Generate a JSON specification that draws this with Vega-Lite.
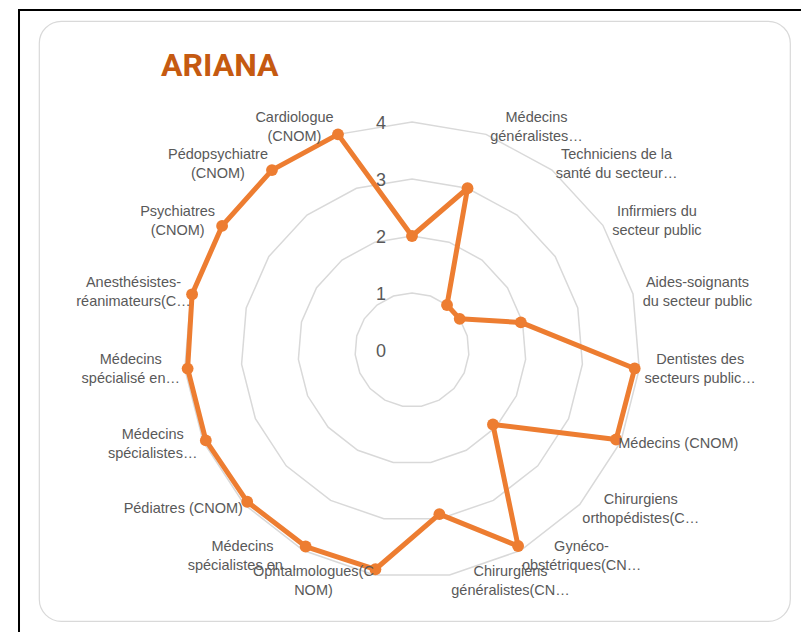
{
  "$schema": "https://vega.github.io/schema/vega-lite/v6.json",
  "width": 751,
  "height": 600,
  "autosize": {"type": "none"},
  "padding": {"left": 39, "top": 21, "right": 11, "bottom": 11},
  "background": "white",
  "config": {
    "view": {"stroke": "#d9d9d9", "strokeWidth": 1.2, "cornerRadius": 22, "fill": "white"}
  },
  "title": {
    "text": "ARIANA",
    "anchor": "start",
    "frame": "group",
    "orient": "top",
    "offset": -68,
    "dx": 122,
    "dy": 31,
    "baseline": "alphabetic",
    "font": "Roboto",
    "fontSize": 32,
    "fontWeight": "bold",
    "color": "#C55A11"
  },
  "datasets": {
    "cats": [
      {"idx": 0, "label": [""], "value": 2.0},
      {"idx": 1, "label": ["Médecins", "généralistes…"], "value": 3.0},
      {"idx": 2, "label": ["Techniciens de la", "santé du secteur…"], "value": 1.0},
      {"idx": 3, "label": ["Infirmiers du", "secteur public"], "value": 1.0},
      {"idx": 4, "label": ["Aides-soignants", "du secteur public"], "value": 1.97},
      {"idx": 5, "label": ["Dentistes des", "secteurs public…"], "value": 3.92},
      {"idx": 6, "label": ["Médecins (CNOM)"], "value": 3.91},
      {"idx": 7, "label": ["Chirurgiens", "orthopédistes(C…"], "value": 1.93},
      {"idx": 8, "label": ["Gynéco-", "obstétriques(CN…"], "value": 3.91},
      {"idx": 9, "label": ["Chirurgiens", "généralistes(CN…"], "value": 2.92},
      {"idx": 10, "label": ["Ophtalmologues(C", "NOM)"], "value": 3.9},
      {"idx": 11, "label": ["Médecins", "spécialistes en…"], "value": 3.92},
      {"idx": 12, "label": ["Pédiatres (CNOM)"], "value": 3.93},
      {"idx": 13, "label": ["Médecins", "spécialistes…"], "value": 3.95},
      {"idx": 14, "label": ["Médecins", "spécialisé en…"], "value": 3.95},
      {"idx": 15, "label": ["Anesthésistes-", "réanimateurs(C…"], "value": 3.98},
      {"idx": 16, "label": ["Psychiatres", "(CNOM)"], "value": 3.98},
      {"idx": 17, "label": ["Pédopsychiatre", "(CNOM)"], "value": 4.0},
      {"idx": 18, "label": ["Cardiologue", "(CNOM)"], "value": 4.0}
    ],
    "ticks": [{"v": 0}, {"v": 1}, {"v": 2}, {"v": 3}, {"v": 4}]
  },
  "layer": [
    {
      "data": {"values": [{}]},
      "mark": {"type": "rect", "fillOpacity": 0, "stroke": "black", "strokeWidth": 2},
      "encoding": {
        "x": {"datum": -6.8947, "type": "quantitative", "scale": {"domain": [-6.5439, 6.6316], "nice": false, "zero": false}, "axis": null},
        "x2": {"datum": 8.5},
        "y": {"datum": 5.9649, "type": "quantitative", "scale": {"domain": [-4.7544, 5.7719], "nice": false, "zero": false}, "axis": null},
        "y2": {"datum": -6.5}
      }
    },
    {
      "data": {"name": "cats"},
      "transform": [
        {"calculate": "[1, 2, 3, 4]", "as": "ring"},
        {"flatten": ["ring"]},
        {"calculate": "datum.ring * sin(datum.idx * 2 * PI / 19)", "as": "px"},
        {"calculate": "datum.ring * cos(datum.idx * 2 * PI / 19)", "as": "py"}
      ],
      "mark": {"type": "line", "interpolate": "linear-closed", "color": "#d9d9d9", "strokeWidth": 1.5},
      "encoding": {
        "x": {"field": "px", "type": "quantitative", "scale": {"domain": [-6.5439, 6.6316], "nice": false, "zero": false}, "axis": null},
        "y": {"field": "py", "type": "quantitative", "scale": {"domain": [-4.7544, 5.7719], "nice": false, "zero": false}, "axis": null},
        "detail": {"field": "ring", "type": "nominal"},
        "order": {"field": "idx", "type": "quantitative"}
      }
    },
    {
      "data": {"name": "cats"},
      "transform": [
        {"calculate": "datum.value * sin(datum.idx * 2 * PI / 19)", "as": "px"},
        {"calculate": "datum.value * cos(datum.idx * 2 * PI / 19)", "as": "py"}
      ],
      "mark": {"type": "line", "interpolate": "linear-closed", "color": "#ED7D31", "strokeWidth": 5, "strokeJoin": "round"},
      "encoding": {
        "x": {"field": "px", "type": "quantitative", "scale": {"domain": [-6.5439, 6.6316], "nice": false, "zero": false}, "axis": null},
        "y": {"field": "py", "type": "quantitative", "scale": {"domain": [-4.7544, 5.7719], "nice": false, "zero": false}, "axis": null},
        "order": {"field": "idx", "type": "quantitative"}
      }
    },
    {
      "data": {"name": "cats"},
      "transform": [
        {"calculate": "datum.value * sin(datum.idx * 2 * PI / 19)", "as": "px"},
        {"calculate": "datum.value * cos(datum.idx * 2 * PI / 19)", "as": "py"}
      ],
      "mark": {"type": "point", "filled": true, "color": "#ED7D31", "size": 140, "opacity": 1},
      "encoding": {
        "x": {"field": "px", "type": "quantitative", "scale": {"domain": [-6.5439, 6.6316], "nice": false, "zero": false}, "axis": null},
        "y": {"field": "py", "type": "quantitative", "scale": {"domain": [-4.7544, 5.7719], "nice": false, "zero": false}, "axis": null}
      }
    },
    {
      "data": {"name": "ticks"},
      "transform": [
        {"calculate": "0", "as": "px"},
        {"calculate": "datum.v", "as": "py"}
      ],
      "mark": {"type": "text", "align": "right", "baseline": "middle", "dx": -26, "dy": 2, "font": "Liberation Sans", "fontSize": 18, "color": "#595959"},
      "encoding": {
        "x": {"field": "px", "type": "quantitative", "scale": {"domain": [-6.5439, 6.6316], "nice": false, "zero": false}, "axis": null},
        "y": {"field": "py", "type": "quantitative", "scale": {"domain": [-4.7544, 5.7719], "nice": false, "zero": false}, "axis": null},
        "text": {"field": "v", "type": "quantitative"}
      }
    },
    {
      "data": {"name": "cats"},
      "transform": [
        {"filter": "sin(datum.idx * 2 * PI / 19) > 0.01"},
        {"calculate": "max(length(datum.label[0]), length(datum.label) > 1 ? length(datum.label[1]) : 0) * 7 / 57", "as": "w"},
        {"calculate": "4 * sin(datum.idx * 2 * PI / 19) + 5 / 57 + datum.w / 2", "as": "px"},
        {"calculate": "4.12 * cos(datum.idx * 2 * PI / 19) + (length(datum.label) - 1) * 9.5 / 57", "as": "py"}
      ],
      "mark": {"type": "text", "align": "center", "baseline": "middle", "font": "Liberation Sans", "fontSize": 14.5, "lineHeight": 19, "color": "#595959"},
      "encoding": {
        "x": {"field": "px", "type": "quantitative", "scale": {"domain": [-6.5439, 6.6316], "nice": false, "zero": false}, "axis": null},
        "y": {"field": "py", "type": "quantitative", "scale": {"domain": [-4.7544, 5.7719], "nice": false, "zero": false}, "axis": null},
        "text": {"field": "label", "type": "nominal"}
      }
    },
    {
      "data": {"name": "cats"},
      "transform": [
        {"filter": "sin(datum.idx * 2 * PI / 19) < -0.01"},
        {"calculate": "max(length(datum.label[0]), length(datum.label) > 1 ? length(datum.label[1]) : 0) * 7 / 57", "as": "w"},
        {"calculate": "4 * sin(datum.idx * 2 * PI / 19) - 5 / 57 - datum.w / 2", "as": "px"},
        {"calculate": "4.12 * cos(datum.idx * 2 * PI / 19) + (length(datum.label) - 1) * 9.5 / 57", "as": "py"}
      ],
      "mark": {"type": "text", "align": "center", "baseline": "middle", "font": "Liberation Sans", "fontSize": 14.5, "lineHeight": 19, "color": "#595959"},
      "encoding": {
        "x": {"field": "px", "type": "quantitative", "scale": {"domain": [-6.5439, 6.6316], "nice": false, "zero": false}, "axis": null},
        "y": {"field": "py", "type": "quantitative", "scale": {"domain": [-4.7544, 5.7719], "nice": false, "zero": false}, "axis": null},
        "text": {"field": "label", "type": "nominal"}
      }
    }
  ]
}
